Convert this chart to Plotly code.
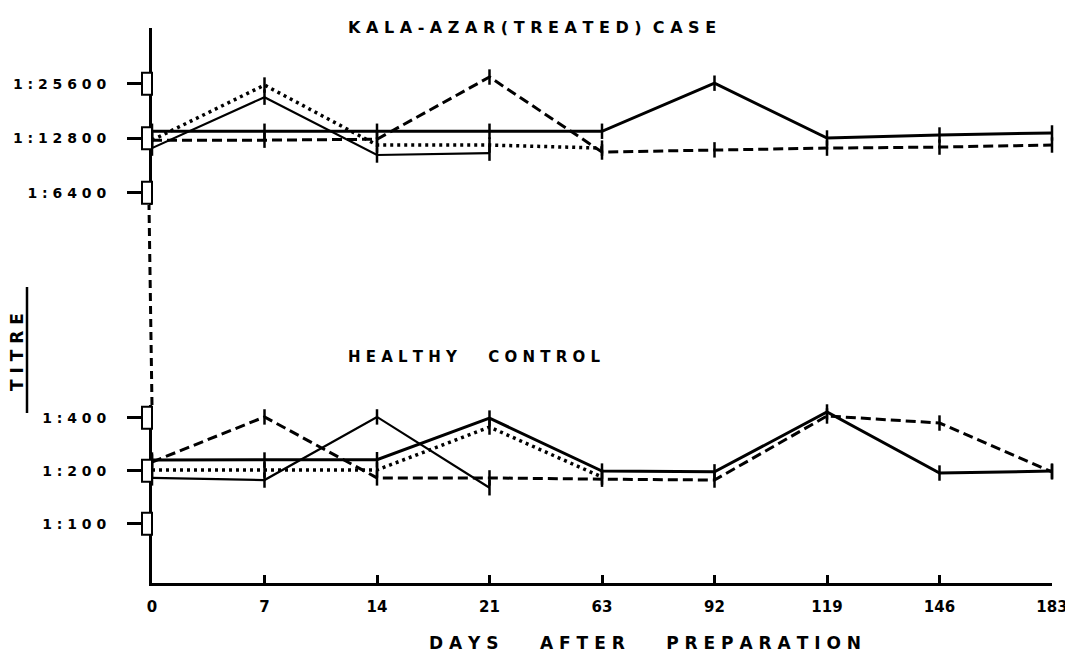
import plotly.graph_objects as go

# ---------------- data ----------------
days = ["0", "7", "14", "21", "63", "92", "119", "146", "183"]

# Kala-azar (treated) case  (titre denominators)
kala_solid = [14000, 14000, 14000, 14000, 14000, 25800, 12850, 13350, 13700]
kala_dashed = [12500, 12500, 12650, 27900, 10750, 11050, 11300, 11450, 11750]
kala_dotted = [12500, 25200, 11750, 11750, 11300, None, None, None, None]
kala_wavy = [11300, 21600, 10350, 10600, None, None, None, None, None]

# Healthy control
healthy_solid = [230, 230, 231, 398, 199, 197, 431, 194, 199]
healthy_dashed = [224, 404, 182, 182, 179, 177, 409, 373, 197]
healthy_dotted = [202, 202, 202, 354, 184, None, None, None, None]
healthy_wavy = [182, 177, 404, 160, None, None, None, None, None]

top_ticks = [6400, 12800, 25600]
top_labels = ["1:6400", "1:12800", "1:25600"]
bot_ticks = [100, 200, 400]
bot_labels = ["1:100", "1:200", "1:400"]

title_top = "KALA-AZAR(TREATED) CASE"
title_bottom = "HEALTHY CONTROL"
x_title = "DAYS AFTER PREPARATION"
y_title = "TITRE"

# ---------------- helpers ----------------
NB = "\u00a0"
FONT = "DejaVu Sans"


def spaced(s, word_gap=2):
    return (NB * word_gap).join(NB.join(w) for w in s.split(" "))


fig = go.Figure()


def add(y, yaxis, dash, width):
    fig.add_trace(go.Scatter(
        x=days, y=y, xaxis="x", yaxis=yaxis, mode="lines+markers",
        line=dict(color="black", width=width, dash=dash),
        marker=dict(symbol="line-ns-open", size=11, color="black",
                    line=dict(color="black", width=2.5)),
        cliponaxis=False, showlegend=False, connectgaps=False,
    ))


DASH = "10px,5px"
DOT = "3px,4px"

add(kala_solid, "y", "solid", 3)
add(kala_dashed, "y", DASH, 3)
add(kala_dotted, "y", DOT, 3.5)
add(kala_wavy, "y", "solid", 2.2)

add(healthy_solid, "y2", "solid", 3)
add(healthy_dashed, "y2", DASH, 3)
add(healthy_dotted, "y2", DOT, 3.5)
add(healthy_wavy, "y2", "solid", 2.2)

# the page body has an 8px margin, so the figure is sized to fill the window
OFF = 8
W, H = 1073 - OFF, 652 - OFF
L, R, T, B = 152 - OFF, 1073 - 1052, 28 - OFF, 69
PW = W - L - R
PH = H - T - B


def py(pix):  # window pixel y -> paper y
    return (H - B - (pix - OFF)) / PH


def px(pix):  # window pixel x -> paper x
    return (pix - OFF - L) / PW


top_dom = [py(205), 1.0]
bot_dom = [0.0, py(405)]

axis_common = dict(
    type="log", showline=True, linewidth=3, linecolor="black",
    ticks="outside", ticklen=22, tickwidth=2.5, tickcolor="black",
    showgrid=False, zeroline=False, anchor="x", automargin=False,
    tickfont=dict(family=FONT, size=14, color="black", weight="bold"),
    ticklabelstandoff=18,
)

fig.update_layout(
    width=W, height=H,
    margin=dict(l=L, r=R, t=T, b=B, autoexpand=False),
    paper_bgcolor="white", plot_bgcolor="white",
    font=dict(family=FONT, color="black"),
    xaxis=dict(
        type="category", range=[0, 8], anchor="y2", domain=[0, 1],
        showline=True, linewidth=3, linecolor="black", automargin=False,
        ticks="inside", ticklen=8, tickwidth=2.5, tickcolor="black",
        showgrid=False, zeroline=False,
        tickfont=dict(family=FONT, size=15, color="black", weight="bold"),
        ticklabelstandoff=8,
    ),
    yaxis=dict(domain=top_dom, range=[3.7388, 4.7165],
               tickvals=top_ticks,
               ticktext=[spaced(t) for t in top_labels], **axis_common),
    yaxis2=dict(domain=bot_dom, range=[1.6632, 2.6742],
                tickvals=bot_ticks,
                ticktext=[spaced(t) for t in bot_labels], **axis_common),
)

shapes = []
for t in top_ticks:
    shapes.append(dict(type="rect", xref="paper", yref="y",
                       x0=-10 / PW, x1=0,
                       y0=t * 2 ** (-11 / 54.5), y1=t * 2 ** (11 / 54.5),
                       line=dict(color="black", width=2), fillcolor="white",
                       layer="above"))
for t in bot_ticks:
    shapes.append(dict(type="rect", xref="paper", yref="y2",
                       x0=-10 / PW, x1=0,
                       y0=t * 2 ** (-11 / 53), y1=t * 2 ** (11 / 53),
                       line=dict(color="black", width=2), fillcolor="white",
                       layer="above"))
# dashed axis break between the two panels
shapes.append(dict(type="line", xref="paper", yref="paper",
                   x0=0, x1=-3 / PW, y0=bot_dom[1], y1=top_dom[0],
                   line=dict(color="black", width=3, dash="8px,5px")))
# underline of the rotated TITRE label
shapes.append(dict(type="line", xref="paper", yref="paper",
                   x0=px(27), x1=px(27), y0=py(413), y1=py(287),
                   line=dict(color="black", width=2.5)))
fig.update_layout(shapes=shapes)

ann_font = dict(family=FONT, color="black", weight="bold")
fig.update_layout(annotations=[
    dict(text=spaced(title_top), xref="paper", yref="paper",
         x=px(532), y=py(27), showarrow=False, xanchor="center",
         yanchor="middle", font=dict(size=16, **ann_font)),
    dict(text=spaced(title_bottom, 6), xref="paper", yref="paper",
         x=px(474), y=py(357), showarrow=False, xanchor="center",
         yanchor="middle", font=dict(size=15, **ann_font)),
    dict(text=spaced(x_title, 7), xref="paper", yref="paper",
         x=px(645), y=py(643), showarrow=False, xanchor="center",
         yanchor="middle", font=dict(size=17, **ann_font)),
    dict(text=spaced(y_title), xref="paper", yref="paper",
         x=px(17), y=py(352), showarrow=False, xanchor="center",
         yanchor="middle", textangle=-90, font=dict(size=17, **ann_font)),
])

fig.write_html("out.html")
